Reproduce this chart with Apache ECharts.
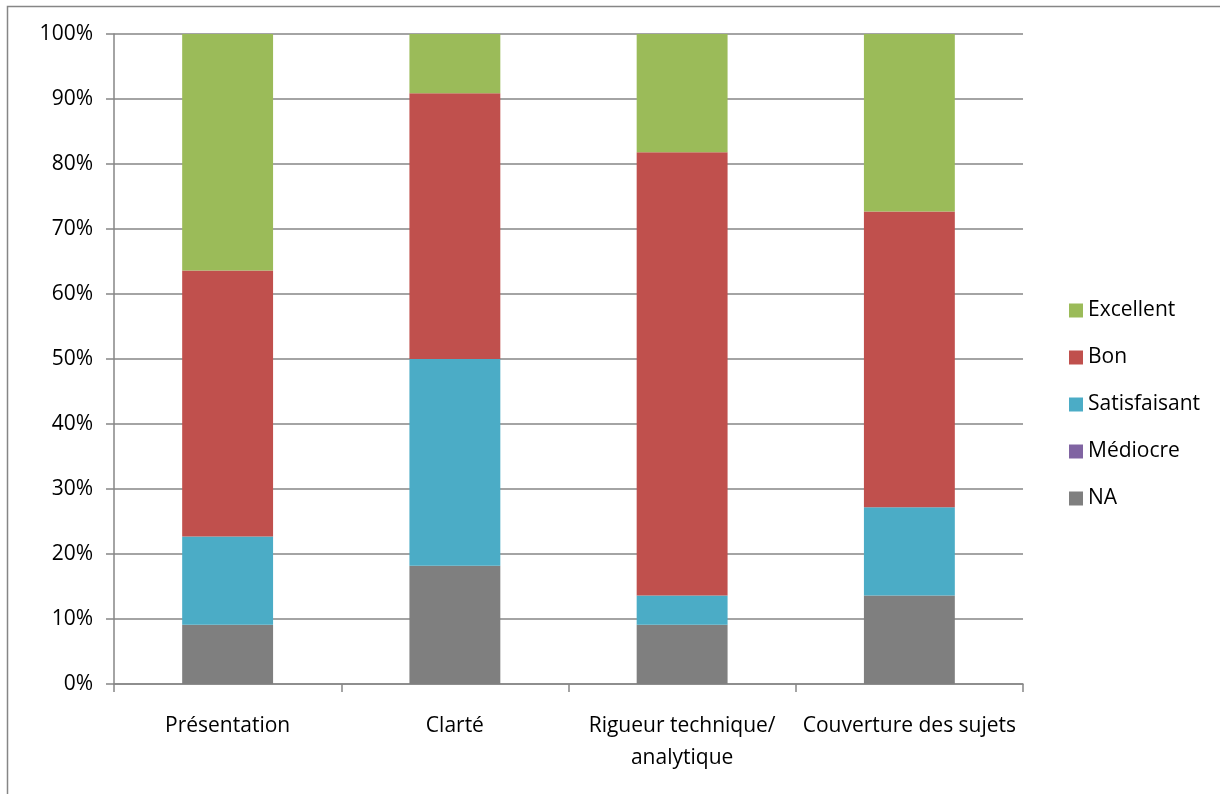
<!DOCTYPE html>
<html><head><meta charset="utf-8">
<script src="https://cdn.jsdelivr.net/npm/echarts@6/dist/echarts.min.js"></script>
<style>html,body{margin:0;padding:0;background:#fff}#c{width:1220px;height:794px}</style>
</head><body><div id="c"></div>
<script>
var categories = ['Présentation', 'Clarté', 'Rigueur technique/\nanalytique', 'Couverture des sujets'];
var seriesNames = ['NA', 'Médiocre', 'Satisfaisant', 'Bon', 'Excellent'];
var naValues = [9.1, 18.2, 9.1, 13.6];
var mediocreValues = [0, 0, 0, 0];
var satisfaisantValues = [13.6, 31.8, 4.5, 13.6];
var bonValues = [40.9, 40.9, 68.2, 45.5];
var excellentValues = [36.4, 9.1, 18.2, 27.3];
var colors = ['#7F7F7F', '#8064A2', '#4BACC6', '#C0504D', '#9BBB59'];
var legendOrder = ['Excellent', 'Bon', 'Satisfaisant', 'Médiocre', 'NA'];

var allValues = [naValues, mediocreValues, satisfaisantValues, bonValues, excellentValues];
var FONT = 'Open Sans';
var FS = 21;
var AX = '#868686';
var chart = echarts.init(document.getElementById('c'), null, {renderer: 'canvas'});
chart.setOption({
  animation: false,
  textStyle: {fontFamily: FONT},
  graphic: [{type: 'rect', shape: {x: 7.5, y: 6.5, width: 1300, height: 900}, style: {fill: 'none', stroke: AX, lineWidth: 1.5}, silent: true, z: -1}],
  grid: {left: 114, right: 197, top: 34, bottom: 110},
  legend: {
    orient: 'vertical', left: 1064, top: 295, itemWidth: 14, itemHeight: 14, itemGap: 26,
    data: legendOrder.map(function(n){return {name: n, icon: 'rect'};}),
    textStyle: {fontFamily: FONT, fontSize: FS, color: '#000', lineHeight: 20}
  },
  xAxis: {
    type: 'category', data: categories, boundaryGap: true,
    axisLine: {lineStyle: {color: AX, width: 1.5}},
    axisTick: {show: true, length: 8, lineStyle: {color: AX, width: 1.5}},
    axisLabel: {interval: 0, color: '#000', fontSize: FS, fontFamily: FONT, lineHeight: 32, margin: 26}
  },
  yAxis: {
    type: 'value', min: 0, max: 100, interval: 10,
    axisLine: {show: true, lineStyle: {color: AX, width: 1.5}},
    axisTick: {show: true, length: 8, lineStyle: {color: AX, width: 1.5}},
    splitLine: {lineStyle: {color: AX, width: 1.5}},
    axisLabel: {formatter: '{value}%', color: '#000', fontSize: FS, fontFamily: FONT, margin: 21}
  },
  series: seriesNames.map(function(n, i){
    return {name: n, type: 'bar', stack: 'total', barWidth: '40%', data: allValues[i],
      itemStyle: {color: colors[i]}};
  })
});
</script></body></html>
